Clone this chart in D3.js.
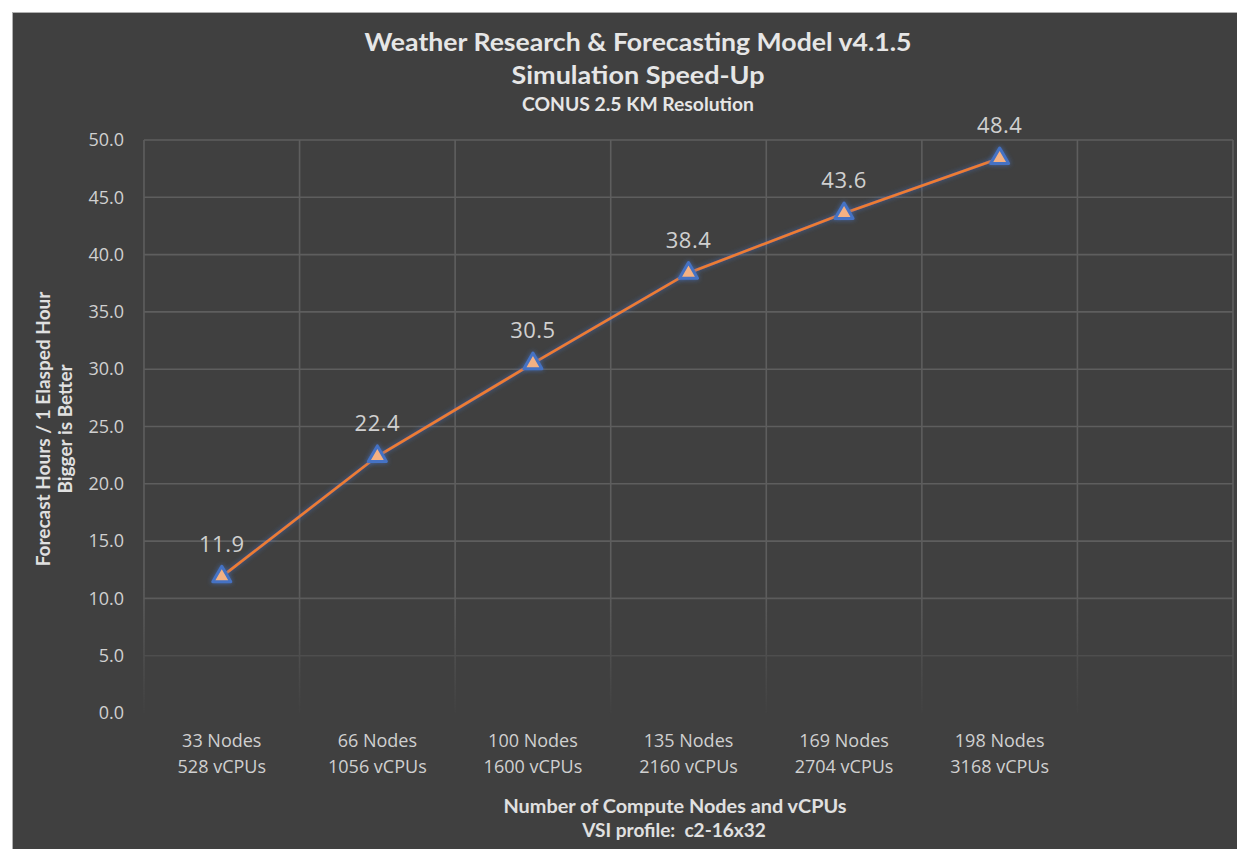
<!DOCTYPE html>
<html>
<head>
<meta charset="utf-8">
<script src="https://cdn.jsdelivr.net/npm/d3@7"></script>
<style>
  body { margin: 0; background: #fff; }
  svg { display: block; }
</style>
</head>
<body>
<svg id="chart"></svg>
<script>
// values
const nodeLabels = ['33 Nodes', '66 Nodes', '100 Nodes', '135 Nodes', '169 Nodes', '198 Nodes'];
const cpuLabels = ['528 vCPUs', '1056 vCPUs', '1600 vCPUs', '2160 vCPUs', '2704 vCPUs', '3168 vCPUs'];
const speedUp = [11.9, 22.4, 30.5, 38.4, 43.6, 48.4];
const yTicks = [0, 5, 10, 15, 20, 25, 30, 35, 40, 45, 50];

class LineChart {
    constructor(_config) {
        this.config = {
            parentElement: _config.parentElement,
            containerWidth: _config.containerWidth || 1237,
            containerHeight: _config.containerHeight || 849,
            margin: {top: 140, right: 4, bottom: 136, left: 144}
        };
        this.initVis();
    }

    initVis() {
        let vis = this;
        vis.width = vis.config.containerWidth - vis.config.margin.left - vis.config.margin.right;
        vis.height = vis.config.containerHeight - vis.config.margin.top - vis.config.margin.bottom;

        vis.svg = d3.select(vis.config.parentElement)
            .attr('width', vis.config.containerWidth)
            .attr('height', vis.config.containerHeight);

        // dark panel with thin light border (white strip left and top)
        vis.svg.append('rect')
            .attr('x', 12.5).attr('y', 12.5)
            .attr('width', vis.config.containerWidth)
            .attr('height', vis.config.containerHeight)
            .attr('fill', '#404040')
            .attr('stroke', '#b0b0b0')
            .attr('stroke-width', 1);

        let defs = vis.svg.append('defs');

        // gridlines fade out toward the bottom of the plot
        let grad = defs.append('linearGradient')
            .attr('id', 'fade')
            .attr('gradientUnits', 'userSpaceOnUse')
            .attr('x1', 0).attr('x2', 0)
            .attr('y1', 0).attr('y2', vis.height);
        grad.append('stop').attr('offset', '0.78').attr('stop-color', '#fff').attr('stop-opacity', 1);
        grad.append('stop').attr('offset', '1').attr('stop-color', '#fff').attr('stop-opacity', 0.05);
        defs.append('mask').attr('id', 'gridMask')
            .attr('maskUnits', 'userSpaceOnUse')
            .attr('x', -10).attr('y', -10).attr('width', vis.width + 20).attr('height', vis.height + 20)
            .append('rect')
            .attr('x', -10).attr('y', -10).attr('width', vis.width + 20).attr('height', vis.height + 20)
            .attr('fill', 'url(#fade)');

        // soft blue glow on line and markers
        let glow = defs.append('filter').attr('id', 'glow')
            .attr('x', '-50%').attr('y', '-50%').attr('width', '200%').attr('height', '200%');
        glow.append('feGaussianBlur').attr('in', 'SourceAlpha').attr('stdDeviation', 2.5).attr('result', 'blur');
        glow.append('feFlood').attr('flood-color', '#4472c4').attr('flood-opacity', 0.75);
        glow.append('feComposite').attr('in2', 'blur').attr('operator', 'in').attr('result', 'glowCol');
        let merge = glow.append('feMerge');
        merge.append('feMergeNode').attr('in', 'glowCol');
        merge.append('feMergeNode').attr('in', 'SourceGraphic');

        vis.chart = vis.svg.append('g')
            .attr('transform', `translate(${vis.config.margin.left}, ${vis.config.margin.top})`);

        // one extra empty category on the right, like the original
        vis.xScale = d3.scaleBand()
            .domain(d3.range(nodeLabels.length + 1))
            .range([0, vis.width])
            .padding(0);

        vis.yScale = d3.scaleLinear()
            .domain([0, 50])
            .range([vis.height, 0]);

        let grid = vis.chart.append('g').attr('mask', 'url(#gridMask)');

        // horizontal gridlines
        grid.selectAll('.hgrid')
            .data(yTicks.filter(d => d > 0))
            .join('line')
                .attr('class', 'hgrid')
                .attr('x1', 0).attr('x2', vis.width)
                .attr('y1', d => vis.yScale(d)).attr('y2', d => vis.yScale(d))
                .attr('stroke', '#5e5e5e').attr('stroke-width', 1.6);

        // vertical gridlines at category boundaries
        let bounds = vis.xScale.domain().map(d => vis.xScale(d)).concat([vis.width]);
        grid.selectAll('.vgrid')
            .data(bounds)
            .join('line')
                .attr('class', 'vgrid')
                .attr('x1', d => d).attr('x2', d => d)
                .attr('y1', 0).attr('y2', vis.height)
                .attr('stroke', '#5e5e5e').attr('stroke-width', 1.6);

        // y axis (labels only)
        vis.yAxis = d3.axisLeft(vis.yScale)
            .tickValues(yTicks)
            .tickFormat(d3.format('.1f'))
            .tickSize(0)
            .tickPadding(20);
        vis.yAxisGroup = vis.chart.append('g').call(vis.yAxis);
        vis.yAxisGroup.select('.domain').remove();
        vis.yAxisGroup.selectAll('text')
            .attr('fill', '#d0d0d0')
            .style('font-family', '"Open Sans", sans-serif')
            .style('font-size', '18px');

        // x axis (two-line category labels)
        vis.xAxis = d3.axisBottom(vis.xScale)
            .tickValues(d3.range(nodeLabels.length))
            .tickSize(0)
            .tickFormat(() => '');
        vis.xAxisGroup = vis.chart.append('g')
            .attr('transform', `translate(0, ${vis.height})`)
            .call(vis.xAxis);
        vis.xAxisGroup.select('.domain').remove();
        vis.xAxisGroup.selectAll('.tick text').each(function(d) {
            let t = d3.select(this)
                .attr('y', 0).attr('dy', null)
                .attr('fill', '#d0d0d0')
                .style('font-family', '"Open Sans", sans-serif')
                .style('font-size', '18px');
            t.append('tspan').attr('x', 0).attr('y', 34).text(nodeLabels[d]);
            t.append('tspan').attr('x', 0).attr('y', 60).text(cpuLabels[d]);
        });

        // titles
        let titleX = 638;
        let title = vis.svg.append('g')
            .attr('fill', '#e6e6e6')
            .style('font-family', 'Lato, sans-serif')
            .style('font-weight', 'bold')
            .attr('text-anchor', 'middle');
        title.append('text').attr('x', titleX).attr('y', 51)
            .style('font-size', '25px')
            .attr('textLength', 547).attr('lengthAdjust', 'spacingAndGlyphs')
            .text('Weather Research & Forecasting Model v4.1.5');
        title.append('text').attr('x', titleX).attr('y', 84)
            .style('font-size', '25px')
            .attr('textLength', 253).attr('lengthAdjust', 'spacingAndGlyphs')
            .text('Simulation Speed-Up');
        title.append('text').attr('x', titleX).attr('y', 111)
            .style('font-size', '18px')
            .attr('textLength', 232).attr('lengthAdjust', 'spacingAndGlyphs')
            .text('CONUS 2.5 KM Resolution');

        // x axis title
        let xTitle = vis.svg.append('g')
            .attr('fill', '#e0e0e0')
            .style('font-family', 'Lato, sans-serif')
            .style('font-weight', 'bold')
            .style('font-size', '19px')
            .attr('text-anchor', 'middle');
        xTitle.append('text').attr('x', 675).attr('y', 813)
            .attr('textLength', 343).attr('lengthAdjust', 'spacingAndGlyphs')
            .text('Number of Compute Nodes and vCPUs');
        xTitle.append('text').attr('x', 674).attr('y', 837).style('white-space', 'pre')
            .text('VSI profile:  c2-16x32');

        // y axis title
        let yTitle = vis.svg.append('text')
            .attr('transform', 'translate(50, 429) rotate(-90)')
            .attr('fill', '#e0e0e0')
            .style('font-family', 'Lato, sans-serif')
            .style('font-weight', 'bold')
            .style('font-size', '19px')
            .attr('text-anchor', 'middle');
        yTitle.append('tspan').attr('x', 0).attr('y', 0).text('Forecast Hours / 1 Elasped Hour');
        yTitle.append('tspan').attr('x', 0).attr('y', 22).text('Bigger is Better');

        vis.updateVis();
    }

    updateVis() {
        let vis = this;
        vis.xCenter = i => vis.xScale(i) + vis.xScale.bandwidth() / 2;
        vis.renderVis();
    }

    renderVis() {
        let vis = this;

        let line = d3.line()
            .x((d, i) => vis.xCenter(i))
            .y(d => vis.yScale(d));

        vis.chart.append('path')
            .datum(speedUp)
            .attr('d', line)
            .attr('fill', 'none')
            .attr('stroke', '#ed7d31')
            .attr('stroke-width', 2.6)
            .attr('filter', 'url(#glow)');

        vis.chart.selectAll('.marker')
            .data(speedUp)
            .join('path')
                .attr('class', 'marker')
                .attr('transform', (d, i) => `translate(${vis.xCenter(i)}, ${vis.yScale(d)})`)
                .attr('d', d3.symbol().type(d3.symbolTriangle).size(140))
                .attr('fill', '#f4b183')
                .attr('stroke', '#4472c4')
                .attr('stroke-width', 3)
                .attr('stroke-linejoin', 'round')
                .attr('filter', 'url(#glow)');

        vis.chart.selectAll('.data-label')
            .data(speedUp)
            .join('text')
                .attr('class', 'data-label')
                .attr('x', (d, i) => vis.xCenter(i))
                .attr('y', d => vis.yScale(d) - 25)
                .attr('text-anchor', 'middle')
                .attr('fill', '#d0d0d0')
                .style('font-family', '"Open Sans", sans-serif')
                .style('font-size', '22px')
                .style('letter-spacing', '0.5px')
                .text(d => d.toFixed(1));
    }
}

new LineChart({parentElement: '#chart'});
</script>
</body>
</html>
